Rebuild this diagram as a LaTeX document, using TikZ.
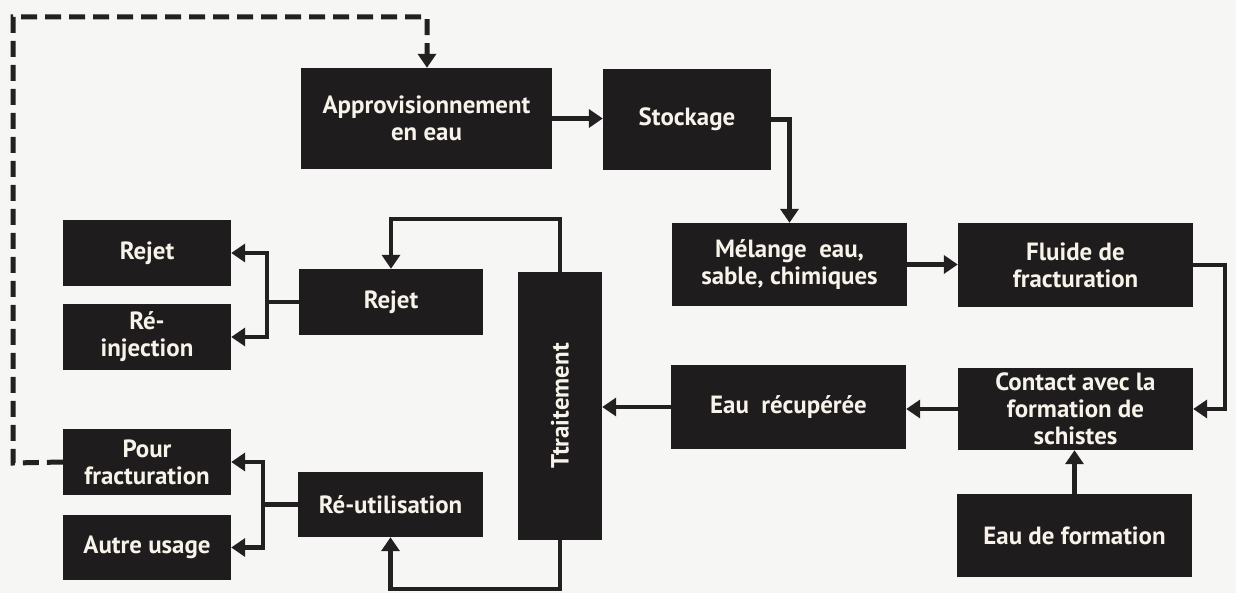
\documentclass[tikz,border=0pt]{standalone}
\usepackage{fontspec}
\setmainfont{PT Sans}
\usetikzlibrary{arrows.meta}
\definecolor{boxfill}{HTML}{1E1C1C}
\definecolor{bgcol}{HTML}{F6F6F4}
\definecolor{txtcol}{HTML}{F7F3EA}
\definecolor{linecol}{HTML}{222020}
\begin{document}
\begin{tikzpicture}[x=1bp,y=-1bp,
  blk/.style={fill=boxfill, draw=none, text=txtcol, align=center,
    inner sep=0pt, font=\fontsize{25}{27}\selectfont\bfseries},
  arr/.style={draw=linecol, line width=4.5bp, -{Triangle[length=14bp,width=18bp]}},
  dsh/.style={draw=linecol, line width=5bp, dash pattern=on 16bp off 8bp,
    -{Triangle[length=14bp,width=18bp]}}
]
\fill[bgcol] (0,0) rectangle (1236,593);
\useasboundingbox (0,0) rectangle (1236,593);

\node[blk, minimum width=251bp, minimum height=101bp] (approv) at (426.5,118.5) {Approvisionnement\\en eau};
\node[blk, minimum width=168bp, minimum height=101bp] (stock) at (687,119.5) {Stockage};
\node[blk, minimum width=235bp, minimum height=83bp] (melange) at (789.5,264.5) {Mélange\hspace{0.5em}eau,\\sable, chimiques};
\node[blk, minimum width=235bp, minimum height=84bp] (fluide) at (1075.5,265) {Fluide de\\fracturation};
\node[blk, minimum width=235bp, minimum height=82bp] (contact) at (1075.5,409) {Contact avec la\\formation de\\schistes};
\node[blk, minimum width=235bp, minimum height=84bp] (eaurec) at (788.5,407) {Eau\hspace{0.5em}récupérée};
\node[blk, minimum width=235bp, minimum height=83bp] (eauform) at (1074.5,535.5) {Eau de formation};
\node[blk, minimum width=84bp, minimum height=268bp] (trait) at (560,406) {};
\node[blk, rotate=90] (traitlbl) at (trait.center) {Ttraitement};
\node[blk, minimum width=184bp, minimum height=66bp] (rejetm) at (391,302) {Rejet};
\node[blk, minimum width=185bp, minimum height=65bp] (reutil) at (390.5,504.5) {Ré-utilisation};
\node[blk, minimum width=168bp, minimum height=66bp] (rejet) at (147,253) {Rejet};
\node[blk, minimum width=168bp, minimum height=66bp] (reinj) at (147,337) {Ré-\\injection};
\node[blk, minimum width=168bp, minimum height=66bp] (pour) at (147,462) {Pour\\fracturation};
\node[blk, minimum width=168bp, minimum height=65bp] (autre) at (147,547.5) {Autre usage};

% main flow
\draw[arr] (approv.east) -- (stock.west |- approv.east);
\draw[arr] (stock.east) -| (melange.north);
\draw[arr] (melange.east) -- (fluide.west |- melange.east);
\draw[arr] (fluide.east) -- ++(32,0) |- (contact.east);
\draw[arr] (contact.west) -- (eaurec.east |- contact.west);
\draw[arr] (eaurec.west) -- (trait.east |- eaurec.west);
\draw[arr] (eauform.north) -- (contact.south -| eauform.north);

% from treatment
\draw[arr] (trait.north) -- ++(0,-53) -| (rejetm.north);
\draw[arr] (trait.south) -- ++(0,49) -| (reutil.south);

% branches
\draw[arr] (rejetm.west) -- ++(-32,0) |- (rejet.east);
\draw[arr] (rejetm.west) -- ++(-32,0) |- (reinj.east);
\draw[arr] (reutil.west) -- ++(-35,0) |- (pour.east);
\draw[arr] (reutil.west) -- ++(-35,0) |- (autre.east);

% dashed return loop
\coordinate (c1) at (13,463);
\coordinate (c2) at (13,17);
\coordinate (c3) at (427,17);
\draw[dsh] (pour.west) -- (c1) -- (c2) -- (c3) -- (approv.north -| c3);
\end{tikzpicture}
\end{document}
